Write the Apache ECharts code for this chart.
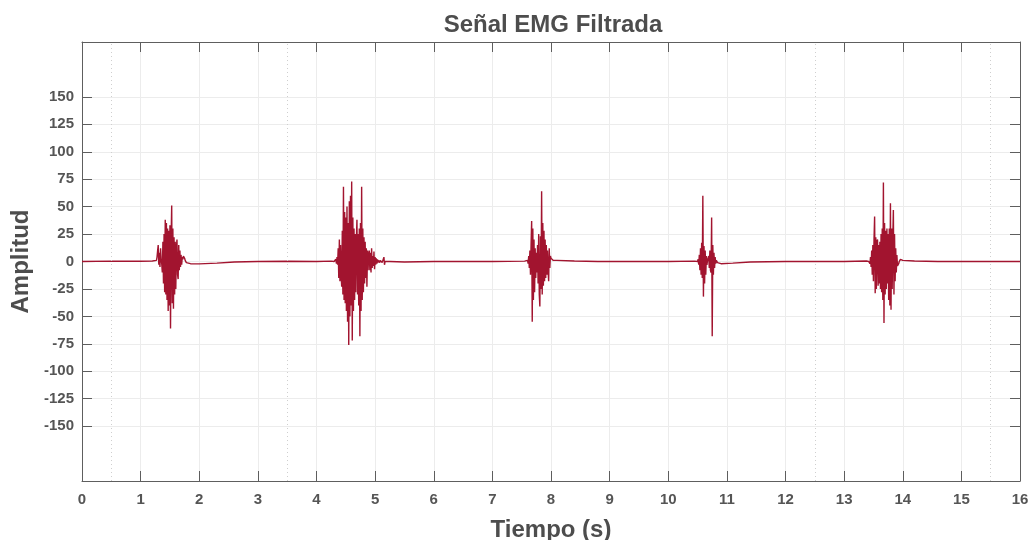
<!DOCTYPE html>
<html>
<head>
<meta charset="utf-8">
<script src="https://cdn.jsdelivr.net/npm/echarts@6/dist/echarts.min.js"></script>
<style>
html,body{margin:0;padding:0;background:#fff;}
#chart{width:1036px;height:540px;}
</style>
</head>
<body>
<div id="chart"></div>
<script>
// ---- data ----
const titleText = 'Señal EMG Filtrada';
const xName = 'Tiempo (s)';
const yName = 'Amplitud';
const xTicks = [0,1,2,3,4,5,6,7,8,9,10,11,12,13,14,15,16];
const yTicks = [-150,-125,-100,-75,-50,-25,0,25,50,75,100,125,150];
const minorGridX = [0.5,3.5,12.5,15.5];
const fs = 100; // burst sample rate (Hz)

// quiet stretches of the signal: [time, amplitude]
const baseline0 = [[0,0],[0.5,0.3],[1.0,0.2],[1.2,0.5]];
const baseline1 = [[1.78,-1],[1.85,-2],[2.0,-2.2],[2.3,-1.5],[2.6,-0.5],[3.0,0],[3.5,0.2],[4.0,0],[4.25,0.3]];
const baseline2 = [[5.25,0],[5.5,-0.5],[6.0,0],[6.5,0],[7.0,0],[7.55,0.3]];
const baseline3 = [[8.1,1],[8.4,0.5],[8.8,0],[9.5,0],[10.0,0],[10.45,0.3]];
const baseline4 = [[10.9,-2],[11.1,-1.5],[11.4,-0.5],[12,0],[13,0],[13.38,0.5]];
const baseline5 = [[14.0,1],[14.2,0.5],[14.6,0],[15,0],[16,0]];

// bursts: start time and samples at fs
const burst1Start = 1.27;
const burst1 = [1,4,10,15,-3,8,-5,12,2,-2,
  -10,18,-20,25,-28,38,-30,35,-35,30,-45,28,-40,33,-61,20,51,-38,30,-43,22,-30,18,-25,12,20,-12,-16,15,-8,10,
  -5,6,-3,4,2,5,4,3,1,0];
const burst2Start = 4.30;
const burst2 = [0,1,-1,2,-2,4,-3,
  12,-15,20,-18,15,-12,
  -23,28,-30,68,-35,45,-38,40,-45,50,-55,35,-76,55,-50,60,-40,73,-72,40,-45,30,-35,25,-28,20,38,-30,25,-40,30,-68,35,-45,68,-35,30,-28,22,-20,18,-15,12,-23,10,-8,6,
  10,-8,8,-10,12,-6,5,-4,9,-7,4,-3,3,-2,2,-1,1,2,-1,1,0,1,-1,0,0,4,-3,0,0,0,0];
const burst3Start = 7.60;
const burst3 = [1,-2,5,-6,10,-12,15,37,-55,30,-35,20,-28,12,-15,8,-10,15,-20,25,-30,-41,23,-25,64,-30,35,-22,28,-18,20,-15,15,-12,10,-8,-18,12,-6,5,3,2,1.5,1.5,1,1];
const burst4Start = 10.50;
const burst4 = [0,2,-3,6,-8,12,-12,17,-15,60,-32,14,-20,10,-12,5,-3,1,0,5,-6,10,-8,-10,40,-68,15,-12,8,-6,4,-2,1,0,-1,-1.5];
const burst5Start = 13.42;
const burst5 = [0,1,-2,4,-5,10,-12,15,-18,20,41,-29,22,-25,18,20,-22,15,-20,18,-25,25,-28,30,-35,72,-56,35,-30,28,-25,30,-20,25,-35,30,-40,53,-44,30,-25,20,47,-30,25,-18,12,-10,6,-4,-3,-2,0,1,2,1.5];

function burstPoints(start, vals){
  return vals.map((v,i)=>[+(start + i/fs).toFixed(3), v]);
}
const signal = [].concat(
  baseline0, burstPoints(burst1Start, burst1),
  baseline1, burstPoints(burst2Start, burst2),
  baseline2, burstPoints(burst3Start, burst3),
  baseline3, burstPoints(burst4Start, burst4),
  baseline4, burstPoints(burst5Start, burst5),
  baseline5
);

// ---- chart ----
const FONT = '"Liberation Sans", Arial, Helvetica, sans-serif';
const AX = '#5e5e5e';
const TXT = '#4d4d4d';
const chart = echarts.init(document.getElementById('chart'), null, {renderer:'canvas'});
chart.setOption({
  animation:false,
  backgroundColor:'#ffffff',
  title:{
    text:titleText, left:548, top:8, textAlign:'center',
    textStyle:{fontFamily:FONT, fontWeight:'bold', fontSize:24, color:TXT}
  },
  grid:{left:82, right:16, top:42, bottom:59, containLabel:false, outerBoundsMode:'none'},
  xAxis:[{
    type:'value', min:0, max:16, interval:1, position:'bottom',
    name:xName, nameLocation:'middle', nameGap:37,
    nameTextStyle:{fontFamily:FONT, fontWeight:'bold', fontSize:24, color:TXT},
    axisLine:{show:true, onZero:false, lineStyle:{color:AX, width:1}},
    axisTick:{show:true, inside:true, length:10, lineStyle:{color:AX}},
    axisLabel:{show:true, margin:11, fontFamily:FONT, fontWeight:'bold', fontSize:15, color:'#555',
      customValues:xTicks, formatter:v=>String(v)},
    splitLine:{show:true, lineStyle:{color:'#ececec', width:1}}
  },{
    type:'value', min:0, max:16, interval:1, position:'top',
    axisLine:{show:true, onZero:false, lineStyle:{color:AX, width:1}},
    axisTick:{show:true, inside:true, length:10, lineStyle:{color:AX}},
    axisLabel:{show:false}, splitLine:{show:false}
  }],
  yAxis:[{
    type:'value', min:-200, max:200, interval:25, position:'left',
    name:yName, nameLocation:'middle', nameGap:40, nameRotate:90,
    nameTextStyle:{fontFamily:FONT, fontWeight:'bold', fontSize:24, color:TXT},
    axisLine:{show:true, onZero:false, lineStyle:{color:AX, width:1}},
    axisTick:{show:true, inside:true, length:10, lineStyle:{color:AX}, customValues:yTicks},
    axisLabel:{show:true, margin:8, fontFamily:FONT, fontWeight:'bold', fontSize:15, color:'#555',
      customValues:yTicks, formatter:v=>String(v)},
    splitLine:{show:true, lineStyle:{color:'#ececec', width:1}}
  },{
    type:'value', min:-200, max:200, interval:25, position:'right',
    axisLine:{show:true, onZero:false, lineStyle:{color:AX, width:1}},
    axisTick:{show:true, inside:true, length:10, lineStyle:{color:AX}, customValues:yTicks},
    axisLabel:{show:false}, splitLine:{show:false}
  }],
  series:[{
    type:'line', data:signal, xAxisIndex:0, yAxisIndex:0,
    showSymbol:false, symbol:'none', smooth:false,
    lineStyle:{color:'#A2142F', width:1.4},
    emphasis:{disabled:true},
    markLine:{
      silent:true, symbol:'none', label:{show:false},
      lineStyle:{color:'#cfcfcf', type:[1,3], width:1},
      data:minorGridX.map(v=>({xAxis:v}))
    }
  }]
});
</script>
</body>
</html>
